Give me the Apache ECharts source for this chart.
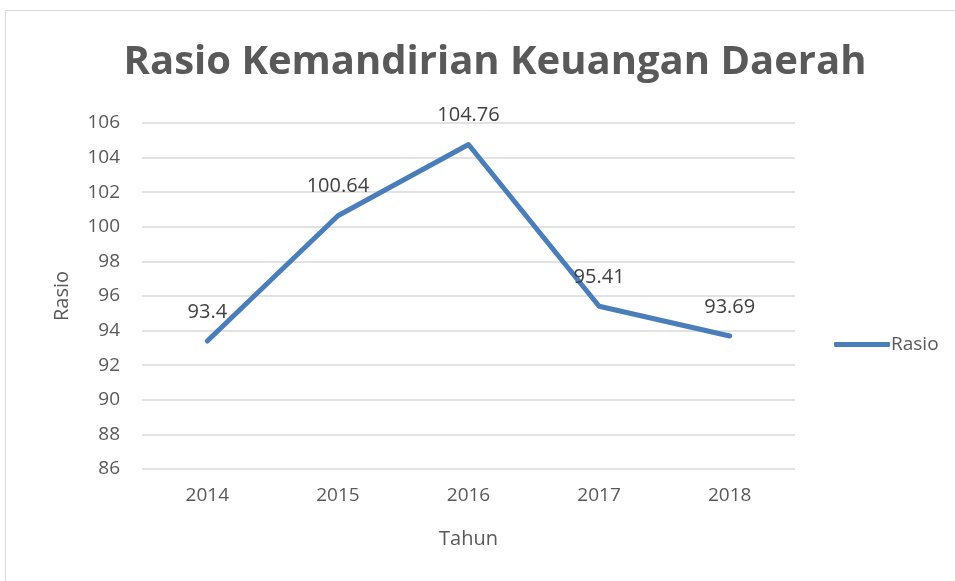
<!DOCTYPE html>
<html>
<head>
<meta charset="utf-8">
<script src="https://cdn.jsdelivr.net/npm/echarts@6/dist/echarts.min.js"></script>
<style>
  html, body { margin: 0; padding: 0; background: #fff; }
  #chart { width: 955px; height: 581px; }
</style>
</head>
<body>
<div id="chart"></div>
<script>
"use strict";

var years = ['2014', '2015', '2016', '2017', '2018'];
var rasio = [93.4, 100.64, 104.76, 95.41, 93.69];

var textColor = '#595959';
var lineColor = '#4a7ebb';
var font = 'Open Sans';

var myChart = echarts.init(document.getElementById('chart'));

var option = {
	backgroundColor: '#fff',
	textStyle: { fontFamily: font },
	graphic: [{
		type: 'rect',
		shape: { x: 5.5, y: 10.5, width: 980, height: 620 },
		style: { fill: 'none', stroke: '#d9d9d9', lineWidth: 1 },
		silent: true
	}],
	title: {
		text: 'Rasio Kemandirian Keuangan Daerah',
		left: 490,
		textAlign: 'center',
		top: 38,
		textStyle: {
			fontFamily: font,
			fontSize: 40,
			fontWeight: 'bold',
			color: textColor
		}
	},
	legend: {
		left: 829,
		top: 330,
		itemWidth: 56,
		itemHeight: 5,
		itemGap: 10,
		data: [{ name: 'Rasio', icon: 'roundRect' }],
		textStyle: { fontFamily: font, fontSize: 19, color: textColor, padding: [0, 0, 0, -4] }
	},
	grid: {
		left: 142,
		right: 160,
		top: 123,
		bottom: 112,
		containLabel: false
	},
	xAxis: {
		type: 'category',
		data: years,
		boundaryGap: true,
		name: 'Tahun',
		nameLocation: 'middle',
		nameGap: 60,
		nameTextStyle: { fontFamily: font, fontSize: 20, color: textColor },
		axisLine: { show: false },
		axisTick: { show: false },
		axisLabel: { margin: 17, fontFamily: font, fontSize: 19, color: textColor }
	},
	yAxis: {
		type: 'value',
		min: 86,
		max: 106,
		interval: 2,
		name: 'Rasio',
		nameLocation: 'middle',
		nameGap: 70,
		nameTextStyle: { fontFamily: font, fontSize: 20, color: textColor },
		axisLine: { show: false },
		axisTick: { show: false },
		axisLabel: { margin: 22, fontFamily: font, fontSize: 19, color: textColor },
		splitLine: { lineStyle: { color: '#d9d9d9', width: 1.5 } }
	},
	series: [{
		name: 'Rasio',
		type: 'line',
		data: rasio,
		symbol: 'circle',
		symbolSize: 0.1,
		showSymbol: true,
		lineStyle: { color: lineColor, width: 5, cap: 'round', join: 'round' },
		itemStyle: { color: lineColor },
		label: {
			show: true,
			position: 'top',
			distance: 19,
			fontFamily: font,
			fontSize: 20,
			color: '#404040'
		}
	}]
};

myChart.setOption(option);
</script>
</body>
</html>
